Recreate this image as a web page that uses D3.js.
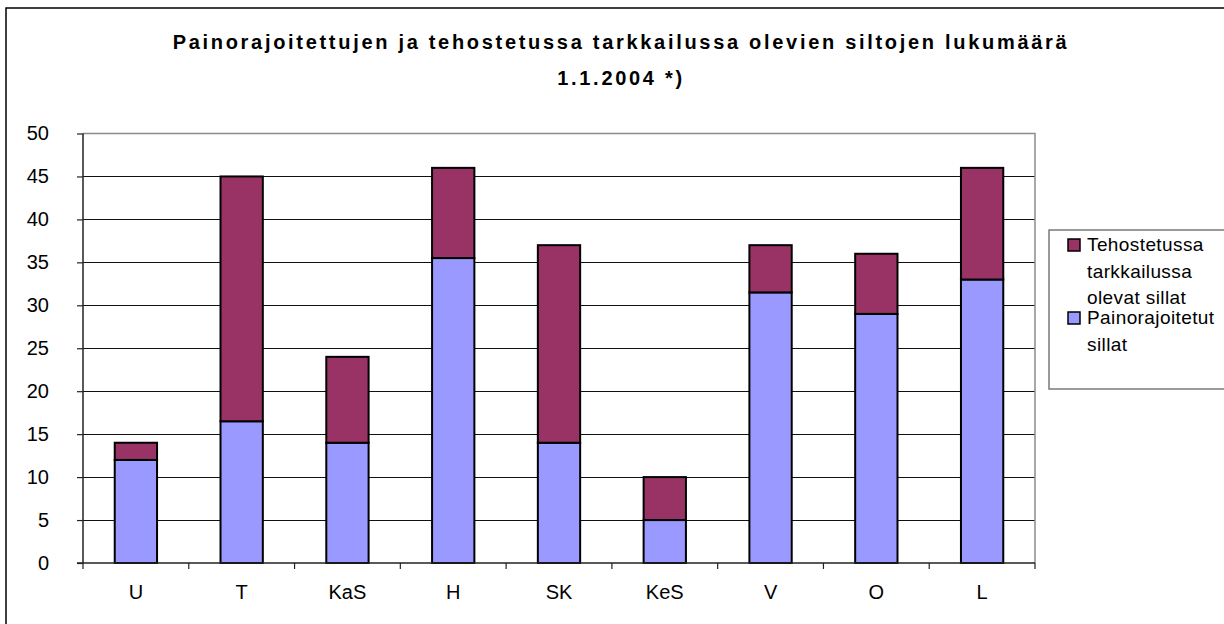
<!DOCTYPE html>
<html>
<head>
<meta charset="UTF-8">
<title>Painorajoitetut sillat</title>
<script src="https://cdn.jsdelivr.net/npm/d3@7"></script>
<style>
  body { margin: 0; background: #fff; }
  svg { display: block; font-family: "Liberation Sans", Arial, sans-serif; }
</style>
</head>
<body>
<svg id="chart" width="1224" height="624"></svg>
<script>
// values
const categories = ["U", "T", "KaS", "H", "SK", "KeS", "V", "O", "L"];
const painorajoitetut = [12, 16.5, 14, 35.5, 14, 5, 31.5, 29, 33];
const tehostetussa = [2, 28.5, 10, 10.5, 23, 5, 5.5, 7, 13];
const yTicks = [0, 5, 10, 15, 20, 25, 30, 35, 40, 45, 50];

const titleLines = ["Painorajoitettujen ja tehostetussa tarkkailussa olevien siltojen lukumäärä", "1.1.2004 *)"];
const seriesKeys = ["paino", "teho"];
const colors = { paino: "#9999ff", teho: "#993366" };

const w = 1224, h = 624;
const m = { left: 83, top: 133.5, right: 1035, bottom: 563 };

const svg = d3.select("#chart");

// outer frame (runs off the right and bottom edges)
svg.append("rect")
  .attr("x", 6).attr("y", 8)
  .attr("width", w + 20).attr("height", h + 20)
  .attr("fill", "none").attr("stroke", "#000").attr("stroke-width", 1.5);

svg.selectAll(".title")
  .data(titleLines)
  .enter().append("text")
  .attr("class", "title")
  .attr("x", 621)
  .attr("y", (d, i) => 49 + i * 36)
  .attr("text-anchor", "middle")
  .style("font-size", "20px")
  .style("font-weight", "bold")
  .style("letter-spacing", "2.7px")
  .text(d => d);

const x = d3.scaleBand()
  .domain(categories)
  .range([m.left, m.right])
  .paddingInner(0.6)
  .paddingOuter(0.3);

const y = d3.scaleLinear()
  .domain([0, 50])
  .range([m.bottom, m.top]);

// gridlines
svg.append("g")
  .selectAll("line")
  .data(yTicks.filter(d => d > 0 && d < 50))
  .enter().append("line")
  .attr("x1", m.left).attr("x2", m.right)
  .attr("y1", d => Math.round(y(d)) + 0.5).attr("y2", d => Math.round(y(d)) + 0.5)
  .attr("stroke", "#111").attr("stroke-width", 1.2);

// plot area border top / right
svg.append("path")
  .attr("d", `M${m.left},${m.top}H${m.right}V${m.bottom}`)
  .attr("fill", "none").attr("stroke", "#8c8c8c").attr("stroke-width", 1.5);

const table = categories.map((c, i) => ({ cat: c, paino: painorajoitetut[i], teho: tehostetussa[i] }));
const stacked = d3.stack().keys(seriesKeys)(table);

svg.append("g")
  .selectAll("g")
  .data(stacked)
  .enter().append("g")
  .attr("fill", d => colors[d.key])
  .selectAll("rect")
  .data(d => d)
  .enter().append("rect")
  .attr("x", d => x(d.data.cat))
  .attr("width", x.bandwidth())
  .attr("y", d => y(d[1]))
  .attr("height", d => y(d[0]) - y(d[1]))
  .attr("stroke", "#000")
  .attr("stroke-width", 2);

// y axis
const yAxis = d3.axisLeft(y).tickValues(yTicks).tickSize(6).tickPadding(28);
const gy = svg.append("g")
  .attr("transform", `translate(${m.left},0)`)
  .call(yAxis);
gy.select(".domain").remove();
gy.append("line")
  .attr("x1", 0).attr("x2", 0).attr("y1", m.top).attr("y2", m.bottom)
  .attr("stroke", "#222").attr("stroke-width", 1.5);
gy.selectAll(".tick line").attr("stroke", "#222").attr("stroke-width", 1.2);
gy.selectAll(".tick text")
  .attr("fill", "#000")
  .style("font-size", "20px")
  .style("font-family", "Liberation Sans, Arial, sans-serif");

// x axis: ticks at category boundaries
const gx = svg.append("g")
  .attr("transform", `translate(0,${m.bottom})`);
gx.append("line")
  .attr("x1", m.left - 6).attr("x2", m.right)
  .attr("stroke", "#222").attr("stroke-width", 1.5);
gx.selectAll(".bt")
  .data(d3.range(categories.length + 1))
  .enter().append("line")
  .attr("x1", i => m.left + i * x.step())
  .attr("x2", i => m.left + i * x.step())
  .attr("y1", 0).attr("y2", 6)
  .attr("stroke", "#222").attr("stroke-width", 1.2);
gx.selectAll(".lbl")
  .data(categories)
  .enter().append("text")
  .attr("x", d => x(d) + x.bandwidth() / 2)
  .attr("y", 36)
  .attr("text-anchor", "middle")
  .style("font-size", "20px")
  .text(d => d);

// legend
const legend = svg.append("g");
legend.append("rect")
  .attr("x", 1049).attr("y", 230)
  .attr("width", 200).attr("height", 159)
  .attr("fill", "#fff").attr("stroke", "#7a7a7a").attr("stroke-width", 1.5);

const legendItems = [
  { key: "teho", lines: ["Tehostetussa", "tarkkailussa", "olevat sillat"], y: 251 },
  { key: "paino", lines: ["Painorajoitetut", "sillat"], y: 324 }
];
const li = legend.selectAll(".li")
  .data(legendItems)
  .enter().append("g");
li.append("rect")
  .attr("x", 1068).attr("y", d => d.y - 12)
  .attr("width", 12).attr("height", 12)
  .attr("fill", d => colors[d.key])
  .attr("stroke", "#000").attr("stroke-width", 1.5);
li.each(function(d) {
  d3.select(this).selectAll("text")
    .data(d.lines)
    .enter().append("text")
    .attr("x", 1087)
    .attr("y", (t, j) => d.y + j * 26.5)
    .style("font-size", "19px")
    .style("letter-spacing", "0.4px")
    .text(t => t);
});
</script>
</body>
</html>
